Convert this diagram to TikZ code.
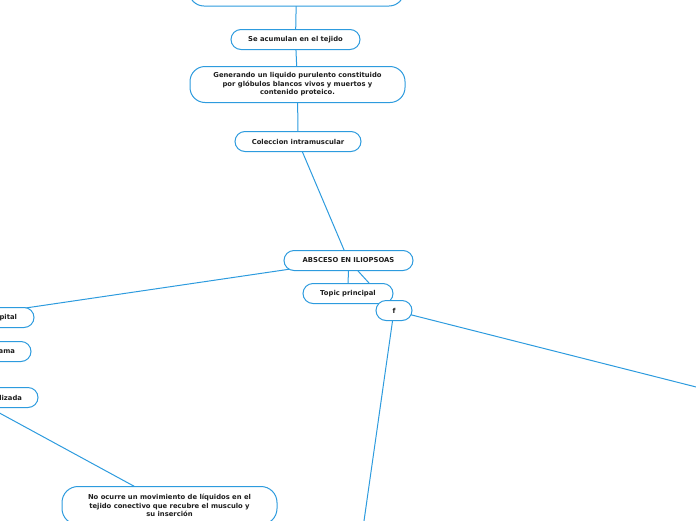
\documentclass[tikz,border=0pt]{standalone}
\usepackage{fontspec}
\setmainfont{DejaVu Sans}
\usetikzlibrary{backgrounds}
\definecolor{mmblue}{RGB}{45,155,222}
\definecolor{mmtext}{RGB}{30,30,30}
\begin{document}
\begin{tikzpicture}[x=1pt,y=-1pt,
  box/.style={draw=mmblue, fill=white, line width=1pt, rounded corners=10pt,
    font=\fontsize{6.8}{8.6}\selectfont\bfseries, text=mmtext, align=center,
    inner sep=0pt, minimum height=20pt},
  bigbox/.style={box, rounded corners=15pt, minimum height=36pt},
  link/.style={draw=mmblue, line width=1pt}]
\useasboundingbox (0,0) rectangle (696,520);
\clip (0,0) rectangle (696,520);
% nodes
\node[bigbox, minimum width=215pt] (top) at (296.5,-12) {};
\node[box, minimum width=129pt] (acum) at (295.5,39.5) {Se acumulan en el tejido};
\node[bigbox, minimum width=215pt] (gen) at (297.5,84.5)
  {Generando un liquido purulento constituido\\por glóbulos blancos vivos y muertos y\\contenido proteico.};
\node[box, minimum width=126pt] (cole) at (298,141.5) {Coleccion intramuscular};
\node[box, minimum width=129pt] (abs) at (348.5,260.5) {ABSCESO EN ILIOPSOAS};
\node[box, minimum width=90pt] (topic) at (348,293.5) {Topic principal};
\node[box, minimum width=36pt] (f) at (394,310.5) {f};
\node[box, minimum width=146pt, text width=112pt, align=right] (pital) at (-39,317.5) {pital};
\node[box, minimum width=140pt, text width=108pt, align=right] (ama) at (-39,351.5) {ama};
\node[box, minimum width=134pt, text width=102pt, align=right] (liz) at (-29,397.5) {lizada};
\node[box, rounded corners=16pt, minimum width=215pt, minimum height=38pt] (noc) at (169.5,505.5)
  {No ocurre un movimiento de líquidos en el\\tejido conectivo que recubre el musculo y\\su inserción};
\coordinate (rightend) at (710,390.5);
\coordinate (downend) at (362,535);
% connectors
\begin{pgfonlayer}{background}
\draw[link] (top.center) -- (acum.center);
\draw[link] (acum.center) -- (gen.center);
\draw[link] (gen.center) -- (cole.center);
\draw[link] (cole.center) -- (abs.center);
\draw[link] (abs.center) -- (pital.center);
\draw[link] (abs.center) -- (topic.center);
\draw[link] (abs.center) -- (f.center);
\draw[link] (f.center) -- (rightend);
\draw[link] (f.center) -- (downend);
\draw[link] (liz.center) -- (noc.center);
\end{pgfonlayer}
\end{tikzpicture}
\end{document}
